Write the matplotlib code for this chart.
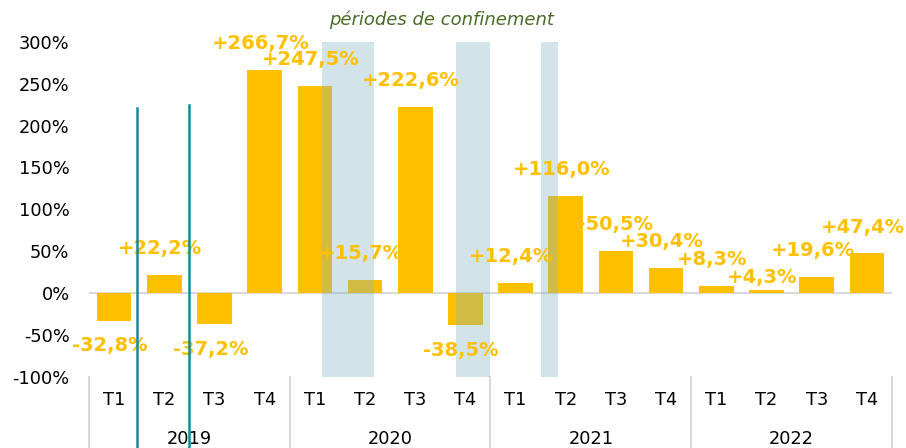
import matplotlib
matplotlib.use('Agg')
import matplotlib.pyplot as plt

quarters = ['T1', 'T2', 'T3', 'T4'] * 4
years = ['2019', '2020', '2021', '2022']
values = [-32.8, 22.2, -37.2, 266.7, 247.5, 15.7, 222.6, -38.5,
          12.4, 116.0, 50.5, 30.4, 8.3, 4.3, 19.6, 47.4]
# confinement periods, in category-axis units
confinements = [(4.14, 5.18), (6.81, 7.49), (8.50, 8.85)]
# two teal markers in 2019 (x position, top value)
markers = [(0.46, 221), (1.49, 224)]

gold = '#FFC000'
fig = plt.figure(figsize=(9.06, 4.48), dpi=100)
ax = fig.add_axes([89 / 906, 71 / 448, 803 / 906, 335.3 / 448])

x = list(range(len(values)))
ax.bar(x, values, width=0.69, color=gold, zorder=2)

for a, b in confinements:
    ax.axvspan(a, b, color='#7FB2C4', alpha=0.35, lw=0, zorder=3)

ax.axhline(0, color='#D9D9D9', lw=1.5, zorder=1)

for i, v in enumerate(values):
    txt = ('+' if v > 0 else '') + f'{v:.1f}'.replace('.', ',') + '%'
    off = 19 if v > 0 else -18
    if v == 4.3:
        off = 9
    ax.annotate(txt, (i, v), xytext=(-3, off), textcoords='offset points',
                ha='center', va='center', color=gold, fontsize=14,
                fontweight='bold', zorder=5, annotation_clip=False)

ax.set_xlim(-0.5, 15.5)
ax.set_ylim(-100, 300)
ax.set_yticks(range(-100, 301, 50))
ax.set_yticklabels([f'{t}%' for t in range(-100, 301, 50)], fontsize=12.8)
ax.tick_params(axis='y', length=0, pad=14)
ax.set_xticks([])
for s in ax.spines.values():
    s.set_visible(False)

tr = ax.get_xaxis_transform()
for i, q in enumerate(quarters):
    ax.text(i, -0.069, q, transform=tr, ha='center', va='center', fontsize=12.8)
for k, y in enumerate(years):
    ax.text(4 * k + 1.5, -0.185, y, transform=tr, ha='center', va='center', fontsize=12.8)
for xs in [-0.5, 3.5, 7.5, 11.5, 15.5]:
    ax.plot([xs, xs], [0, -0.22], transform=tr, color='#D9D9D9', lw=1.5, clip_on=False)

for xm, top in markers:
    ax.plot([xm, xm], [top, -190], color='#15899A', lw=1.8, clip_on=False, zorder=6)

fig.text(441 / 906, (448 - 20) / 448, 'périodes de confinement', ha='center', va='center',
         fontsize=13, style='italic', color='#4A6B2A')

fig.savefig('out.png', dpi=100)
